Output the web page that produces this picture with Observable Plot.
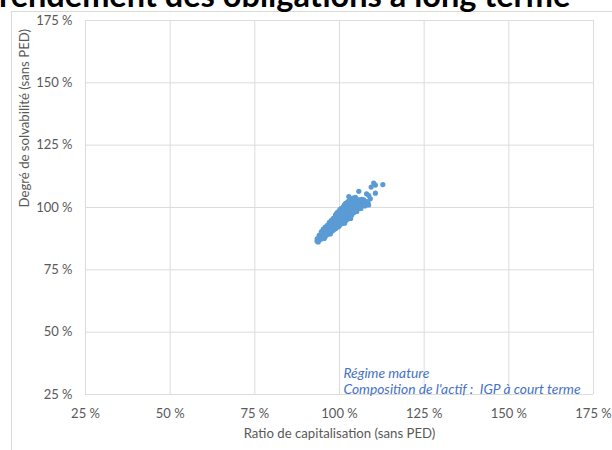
<!DOCTYPE html>
<html lang="fr">
<head>
<meta charset="utf-8">
<script src="https://cdn.jsdelivr.net/npm/d3@7"></script>
<script src="https://cdn.jsdelivr.net/npm/@observablehq/plot@0.6"></script>
<style>
  html, body { margin: 0; padding: 0; background: #fff; }
  #chart { position: relative; width: 612px; height: 450px; overflow: hidden; }
  #cadre { position: absolute; left: 11px; top: 11px; width: 700px; height: 500px;
           border-left: 1px solid #d9d9d9; border-top: 1px solid #d9d9d9; }
  #titre { position: absolute; left: -1px; top: -21px; margin: 0; white-space: nowrap;
           font: bold 32.5px/32.5px Lato, sans-serif; color: #000; }
  #chart svg { position: absolute; left: 0; top: 0; }
</style>
</head>
<body>
<div id="chart">
  <div id="cadre"></div>
  <div id="titre">rendement des obligations à long terme</div>
</div>
<script>
// Axis ticks (in %) and labels
const graduations = [25, 50, 75, 100, 125, 150, 175];
const titreX = "Ratio de capitalisation (sans PED)";
const titreY = "Degré de solvabilité (sans PED)";
const legende = ["Régime mature", "Composition de l'actif :\u00a0 IGP à court terme"];

// Simulated outcomes: ratio de capitalisation -> degrés de solvabilité (in %)
const nuageCentral = [
  [93.4, [86.5, 87.4]],
  [94.0, [86.9, 87.9, 88.8]],
  [94.6, [87.4, 88.3, 89.2, 90.2]],
  [95.2, [87.8, 88.8, 89.7, 90.7, 91.3]],
  [95.8, [88.4, 89.3, 90.3, 91.2, 92.1]],
  [96.4, [89.1, 90.0, 91.0, 91.9, 92.8]],
  [97.0, [89.7, 90.6, 91.6, 92.5, 93.5, 94.0]],
  [97.6, [90.3, 91.2, 92.2, 93.1, 94.1, 94.8]],
  [98.2, [90.9, 91.8, 92.8, 93.7, 94.7, 95.6]],
  [98.8, [91.5, 92.5, 93.4, 94.4, 95.3, 96.2]],
  [99.4, [92.2, 93.1, 94.1, 95.0, 96.0, 96.9, 97.4]],
  [100.0, [92.8, 93.8, 94.7, 95.7, 96.6, 97.6, 98.1]],
  [100.6, [93.5, 94.4, 95.4, 96.3, 97.3, 98.2, 98.9]],
  [101.2, [94.1, 95.1, 96.0, 97.0, 97.9, 98.9, 99.7]],
  [101.8, [94.7, 95.7, 96.6, 97.6, 98.5, 99.5, 100.4, 101.0]],
  [102.4, [95.3, 96.3, 97.2, 98.2, 99.1, 100.1, 101.0, 101.6]],
  [103.0, [96.1, 97.0, 98.0, 98.9, 99.9, 100.8, 101.7, 102.3]],
  [103.6, [97.0, 97.9, 98.9, 99.8, 100.8, 101.7, 102.5]],
  [104.2, [97.9, 98.8, 99.8, 100.7, 101.7, 102.6, 103.2]],
  [104.8, [98.8, 99.7, 100.7, 101.6, 102.5, 103.3]],
  [105.4, [99.6, 100.5, 101.5, 102.4, 103.2]],
  [106.0, [100.2, 101.1, 102.1, 103.0]],
  [106.6, [100.7, 101.6, 102.5, 103.3]],
  [107.2, [101.1, 102.0, 102.8]],
  [107.8, [101.4, 102.3]],
  [108.4, [101.6, 102.4]]
];
// Ragged upper and lower edges of the cloud
const bordsNuage = [
  [98.8, 97.0], [99.1, 97.6], [99.4, 98.1], [100.0, 98.9], [100.3, 99.4],
  [100.6, 99.7], [101.2, 100.5], [101.5, 101.2], [101.8, 101.7], [102.4, 102.3],
  [102.9, 102.7], [103.0, 103.0], [103.6, 103.2], [104.0, 103.8],
  [93.7, 86.2], [95.5, 87.6], [97.3, 89.4], [99.7, 92.3], [101.5, 93.7],
  [103.3, 95.6], [105.1, 98.4], [106.3, 99.6], [107.5, 100.6], [108.6, 101.0]
];
const pointsIsoles = [
  [102.75, 104.4], [104.2, 103.5], [104.7, 104.1], [105.7, 106.5],
  [107.2, 103.1], [108.0, 105.5], [108.65, 104.8], [109.1, 103.5],
  [109.35, 108.2], [110.1, 109.8], [110.6, 109.0], [110.6, 105.75],
  [112.8, 109.2]
];

const simulations = [
  ...nuageCentral.flatMap(([x, ys]) => ys.map(y => ({x, y}))),
  ...bordsNuage.map(([x, y]) => ({x, y})),
  ...pointsIsoles.map(([x, y]) => ({x, y}))
];

const gris = "#595959";
const fmt = d => d + " %";

const plot = Plot.plot({
  width: 612,
  height: 450,
  marginLeft: 85,
  marginRight: 19,
  marginTop: 20,
  marginBottom: 56,
  style: {fontFamily: "Lato, sans-serif", fontSize: "13px", color: gris, background: "transparent", overflow: "visible"},
  x: {domain: [25, 175]},
  y: {domain: [25, 175]},
  marks: [
    Plot.gridX(graduations, {stroke: "#dcdcdc", strokeOpacity: 1}),
    Plot.gridY(graduations, {stroke: "#dcdcdc", strokeOpacity: 1}),
    Plot.axisX(graduations, {tickSize: 0, tickPadding: 14, tickFormat: fmt, label: null}),
    Plot.axisY(graduations, {tickSize: 0, tickPadding: 13, tickFormat: fmt, label: null}),
    Plot.text([titreX], {frameAnchor: "bottom", dy: 43, fill: gris, fontSize: 13.2}),
    Plot.text([titreY], {frameAnchor: "left", dx: -61, rotate: -90, fill: gris, fontSize: 13.2}),
    Plot.dot(simulations, {x: "x", y: "y", r: 2.6, fill: "#5B9BD5"}),
    Plot.text([legende.join("\n")], {
      frameAnchor: "bottom-left", dx: 258, dy: -14, textAnchor: "start",
      lineAnchor: "middle", lineHeight: 1.2, fill: "#4472C4",
      fontStyle: "italic", fontSize: 13.8
    })
  ]
});
document.getElementById("chart").appendChild(plot);
</script>
</body>
</html>
